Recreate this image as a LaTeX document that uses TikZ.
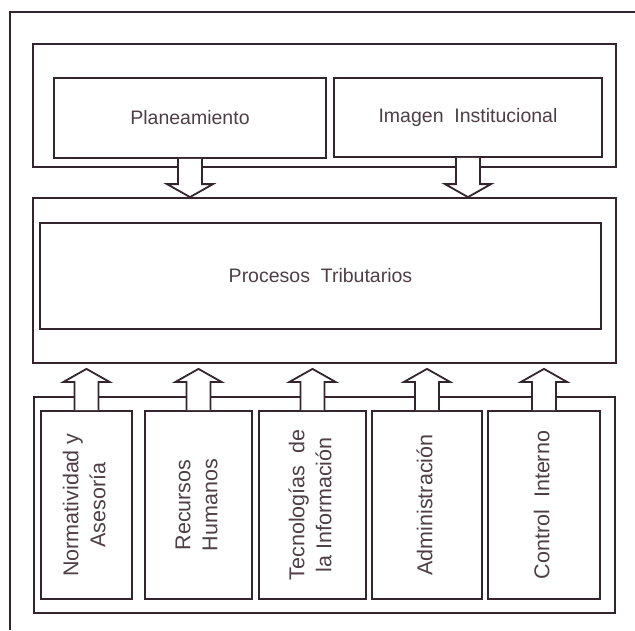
\documentclass[tikz,border=0pt]{standalone}
\usepackage{fontspec}
\usepackage{graphicx}
\setmainfont{Liberation Sans}
\usetikzlibrary{calc}
\definecolor{linea}{RGB}{52,36,46}
\definecolor{texto}{RGB}{78,62,70}
\tikzset{
  grupo/.style={draw=linea, line width=1.8pt, rectangle, inner sep=0pt},
  caja/.style={draw=linea, line width=1.8pt, rectangle, inner sep=0pt, text=texto, font=\fontsize{19.5}{23}\selectfont},
  cajav/.style={caja, font=\fontsize{21.5}{27}\selectfont},
  flecha/.style={draw=linea, fill=white, line width=1.8pt, line join=miter}
}
% texto vertical en las cajas de apoyo
\newcommand{\vtexto}[1]{\rotatebox{90}{\begin{tabular}{@{}c@{}}#1\end{tabular}}}
% flecha gruesa de #1 a #2
\newcommand{\flechagorda}[2]{%
  \coordinate (fb) at ($(#2)!13pt!(#1)$);
  \draw[flecha] ($(#1)!12pt!90:(#2)$) -- ($(fb)!12pt!90:(#2)$) -- ($(fb)!23pt!90:(#2)$) -- (#2)
    -- ($(fb)!23pt!-90:(#2)$) -- ($(fb)!12pt!-90:(#2)$) -- ($(#1)!12pt!-90:(#2)$);}
\begin{document}
\begin{tikzpicture}[x=1pt, y=-1pt]
  \useasboundingbox (0,0) rectangle (635,630);
  \draw[linea, line width=1.8pt] (10,630) -- (10,12) -- (635,12);
  % grupo superior
  \node[grupo, minimum width=583pt, minimum height=123pt] (sup) at (324.5,105.5) {};
  \node[caja, minimum width=272pt, minimum height=80pt] (plan) at (190,118) {Planeamiento};
  \node[caja, minimum width=268pt, minimum height=79pt] (img) at (468,117.5) {Imagen\ \ Institucional};
  % procesos
  \node[grupo, minimum width=583pt, minimum height=165pt] (mid) at (324.5,280.5) {};
  \node[caja, minimum width=561pt, minimum height=106pt] (proc) at (320.5,276) {Procesos\ \ Tributarios};
  % grupo inferior
  \node[grupo, minimum width=581pt, minimum height=216pt] (inf) at (324.5,505) {};
  \node[cajav, minimum width=91pt, minimum height=188pt] (nrm) at (86.5,505) {\vtexto{Normatividad y\\Asesoría}};
  \node[cajav, minimum width=107pt, minimum height=188pt] (rh) at (198.5,505) {\vtexto{Recursos\\Humanos}};
  \node[cajav, minimum width=107pt, minimum height=188pt] (ti) at (312.5,505) {\vtexto{Tecnologías\ \ de\\la Información}};
  \node[cajav, minimum width=110pt, minimum height=188pt] (adm) at (427,505) {\vtexto{Administración}};
  \node[cajav, minimum width=112pt, minimum height=188pt] (ci) at (544,505) {\vtexto{Control\ \ Interno}};
  % flechas
  \coordinate (p1) at (plan.south |- mid.north);
  \coordinate (p2) at (img.south |- mid.north);
  \flechagorda{plan.south}{p1}
  \flechagorda{img.south}{p2}
  \foreach \c in {nrm,rh,ti,adm,ci}{
    \path (\c.north |- mid.south) ++(0,5) coordinate (q-\c);
    \flechagorda{\c.north}{q-\c}
  }
\end{tikzpicture}
\end{document}
